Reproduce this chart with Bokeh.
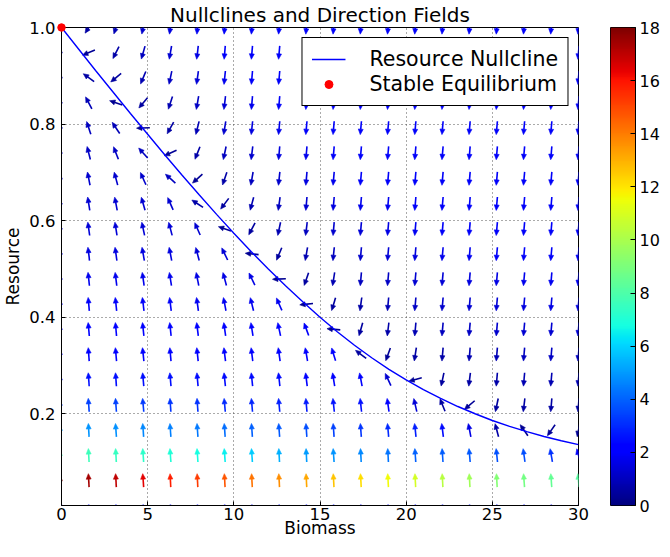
import math
import numpy as np
from bokeh.plotting import figure
from bokeh.models import (Range1d, FixedTicker, LinearColorMapper, Legend,
                          LegendItem, ColumnDataSource, NumeralTickFormatter)
from bokeh.layouts import row
from bokeh.transform import linear_cmap
from bokeh.embed import file_html
from bokeh.resources import INLINE

N = float("nan")

TITLE = "Nullclines and Direction Fields"
X_LABEL = "Biomass"
Y_LABEL = "Resource"
NULL_LABEL = "Resource Nullcline"
EQ_LABEL = "Stable Equilibrium"

x_ticks = [0, 5, 10, 15, 20, 25, 30]
y_ticks = [0.2, 0.4, 0.6, 0.8, 1.0]
cbar_ticks = [0, 2, 4, 6, 8, 10, 12, 14, 16, 18]

# quiver grid (columns = biomass, rows = resource)
biomass_grid = [0.0, 1.58, 3.16, 4.74, 6.32, 7.89, 9.47, 11.05, 12.63, 14.21,
                15.79, 17.37, 18.95, 20.53, 22.11, 23.68, 25.26, 26.84, 28.42, 30.0]
resource_grid = [0.01, 0.062, 0.114, 0.166, 0.218, 0.271, 0.323, 0.375, 0.427, 0.479,
                 0.531, 0.583, 0.635, 0.687, 0.740, 0.792, 0.844, 0.896, 0.948, 1.0]

# arrow direction in degrees (90 = up, 180 = left, 270 = down); nan = zero-length (dot)
arrow_angle = [
    [N, N, N, N, N, N, N, N, N, N, N, N, N, N, N, N, N, N, N, N],
    [N, 93, 93, 94, 93, 93, 93, 93, 93, 93, 93, 93, 93, 93, 93, 93, 93, 94, 94, 95],
    [N, 93, 93, 94, 94, 94, 94, 94, 93, 93, 94, 93, 93, 94, 94, 95, 96, 98, 100, 105],
    [N, 93, 94, 94, 94, 94, 94, 94, 94, 94, 94, 94, 95, 96, 97, 101, 105, 125, 235, 259],
    [N, 94, 94, 95, 94, 94, 95, 95, 95, 95, 96, 96, 98, 103, 112, 220, 258, 263, 265, 265],
    [N, 94, 94, 95, 95, 95, 96, 96, 96, 97, 99, 101, 115, 195, 258, 263, 265, 265, 265, 265],
    [N, 94, 95, 96, 95, 96, 97, 97, 98, 100, 107, 143, 250, 261, 265, 265, 265, 265, 265, 265],
    [N, 95, 95, 96, 96, 97, 98, 99, 102, 110, 175, 254, 263, 265, 265, 265, 265, 265, 265, 265],
    [N, 95, 96, 97, 97, 98, 101, 104, 114, 186, 253, 262, 265, 265, 265, 265, 265, 265, 265, 265],
    [N, 96, 97, 98, 99, 101, 105, 116, 182, 251, 261, 265, 265, 265, 265, 265, 265, 265, 265, 265],
    [N, 97, 98, 100, 101, 105, 116, 174, 247, 260, 264, 265, 265, 265, 265, 265, 265, 265, 265, 265],
    [N, 98, 99, 102, 105, 114, 161, 242, 258, 263, 265, 265, 265, 265, 265, 265, 265, 265, 265, 265],
    [N, 99, 101, 106, 114, 147, 233, 255, 262, 265, 265, 265, 265, 265, 265, 265, 265, 265, 265, 265],
    [N, 101, 105, 114, 138, 222, 251, 260, 264, 265, 265, 265, 265, 265, 265, 265, 265, 265, 265, 265],
    [N, 104, 111, 132, 204, 248, 258, 263, 265, 265, 265, 265, 265, 265, 265, 265, 265, 265, 265, 265],
    [N, 108, 124, 182, 241, 256, 261, 264, 265, 265, 265, 265, 265, 265, 265, 265, 265, 265, 265, 265],
    [N, 118, 162, 230, 252, 260, 263, 265, 265, 265, 265, 265, 265, 265, 265, 265, 265, 265, 265, 265],
    [N, 144, 219, 247, 258, 262, 264, 265, 265, 265, 265, 265, 265, 265, 265, 265, 265, 265, 265, 265],
    [N, 202, 243, 254, 260, 263, 265, 265, 265, 265, 265, 265, 265, 265, 265, 265, 265, 265, 265, 265],
    [N, 237, 252, 258, 262, 265, 265, 265, 265, 265, 265, 265, 265, 265, 265, 265, 265, 265, 265, 265],
]

# arrow magnitude (colour value)
arrow_speed = [
    [2.4, 2.4, 2.4, 2.4, 2.4, 2.4, 2.4, 2.4, 2.4, 2.4, 2.4, 2.4, 2.4, 2.4, 2.4, 2.4, 2.4, 2.4, 2.4, 2.4],
    [18.0, 17.4, 17.0, 16.4, 15.8, 15.2, 14.7, 14.2, 13.7, 13.2, 12.6, 12.1, 11.6, 10.9, 10.3, 9.8, 9.2, 8.8, 8.5, 8.2],
    [7.7, 7.6, 7.5, 7.3, 7.0, 6.8, 6.5, 5.9, 5.4, 5.0, 4.9, 4.7, 4.3, 4.0, 3.9, 3.8, 3.7, 3.6, 3.1, 1.9],
    [5.0, 4.9, 4.8, 4.7, 4.5, 4.4, 4.2, 4.0, 3.8, 3.6, 3.4, 3.2, 3.0, 2.8, 2.4, 1.6, 0.7, 0.3, 0.4, 0.4],
    [3.5, 3.4, 3.4, 3.3, 3.2, 3.1, 3.0, 2.9, 2.8, 2.7, 2.6, 2.5, 2.2, 1.4, 0.5, 0.4, 0.5, 0.6, 0.6, 0.7],
    [2.5, 2.5, 2.5, 2.5, 2.5, 2.4, 2.4, 2.4, 2.4, 2.3, 2.3, 2.3, 1.3, 0.4, 0.5, 0.6, 0.7, 0.8, 0.8, 0.9],
    [2.3, 2.3, 2.3, 2.3, 2.3, 2.2, 2.2, 2.2, 2.2, 2.1, 2.1, 0.5, 0.4, 0.6, 0.7, 0.8, 0.9, 1.0, 1.1, 1.1],
    [2.1, 2.1, 2.1, 2.1, 2.1, 2.0, 2.0, 2.0, 2.0, 1.9, 0.3, 0.5, 0.7, 0.8, 1.0, 1.1, 1.2, 1.3, 1.3, 1.4],
    [1.9, 1.9, 1.9, 1.9, 1.9, 1.8, 1.8, 1.8, 1.8, 0.3, 0.5, 0.7, 0.9, 1.1, 1.2, 1.3, 1.4, 1.5, 1.6, 1.6],
    [1.7, 1.7, 1.7, 1.7, 1.7, 1.6, 1.6, 1.6, 0.3, 0.5, 0.8, 1.0, 1.1, 1.3, 1.4, 1.5, 1.6, 1.7, 1.8, 1.8],
    [1.5, 1.5, 1.5, 1.5, 1.5, 1.4, 1.4, 0.3, 0.5, 0.8, 1.0, 1.2, 1.4, 1.5, 1.7, 1.8, 1.9, 1.9, 1.9, 1.9],
    [1.4, 1.4, 1.4, 1.4, 1.4, 1.3, 0.4, 0.5, 0.8, 1.0, 1.2, 1.4, 1.6, 1.8, 1.9, 1.9, 1.9, 1.9, 1.9, 1.9],
    [1.3, 1.3, 1.3, 1.3, 1.3, 0.7, 0.5, 0.8, 1.0, 1.3, 1.5, 1.7, 1.8, 1.9, 1.9, 1.9, 1.9, 1.9, 1.9, 1.9],
    [1.2, 1.2, 1.2, 1.2, 1.0, 0.4, 0.7, 1.0, 1.2, 1.5, 1.7, 1.9, 1.9, 1.9, 1.9, 1.9, 1.9, 1.9, 1.9, 1.9],
    [1.1, 1.1, 1.1, 1.0, 0.4, 0.7, 1.0, 1.2, 1.5, 1.7, 1.9, 1.9, 1.9, 1.9, 1.9, 1.9, 1.9, 1.9, 1.9, 1.9],
    [1.0, 1.0, 0.9, 0.3, 0.6, 0.9, 1.2, 1.5, 1.7, 1.9, 1.9, 1.9, 1.9, 1.9, 1.9, 1.9, 1.9, 1.9, 1.9, 1.9],
    [0.9, 0.9, 0.3, 0.5, 0.8, 1.1, 1.4, 1.7, 1.9, 1.9, 1.9, 1.9, 1.9, 1.9, 1.9, 1.9, 1.9, 1.9, 1.9, 1.9],
    [0.8, 0.6, 0.5, 0.8, 1.1, 1.4, 1.7, 1.9, 1.9, 1.9, 1.9, 1.9, 1.9, 1.9, 1.9, 1.9, 1.9, 1.9, 1.9, 1.9],
    [0.6, 0.4, 0.7, 1.0, 1.3, 1.6, 1.9, 1.9, 1.9, 1.9, 1.9, 1.9, 1.9, 1.9, 1.9, 1.9, 1.9, 1.9, 1.9, 1.9],
    [0.3, 0.6, 0.9, 1.2, 1.5, 1.8, 1.9, 1.9, 1.9, 1.9, 1.9, 1.9, 1.9, 1.9, 1.9, 1.9, 1.9, 1.9, 1.9, 1.9],
]

# resource nullcline
null_biomass = [0, 1, 2, 3, 4, 5, 6, 7, 8, 9, 10, 11, 12, 13, 14, 15, 16, 17, 18, 19, 20,
                21, 22, 23, 24, 25, 26, 27, 28, 29, 30]
null_resource = [1.0, 0.955, 0.910, 0.866, 0.822, 0.779, 0.736, 0.694, 0.653, 0.613, 0.574,
                 0.536, 0.500, 0.465, 0.432, 0.400, 0.370, 0.342, 0.316, 0.292, 0.270,
                 0.250, 0.232, 0.215, 0.200, 0.186, 0.174, 0.163, 0.153, 0.144, 0.136]

eq_biomass = [0.0]
eq_resource = [1.0]

C_MIN, C_MAX = 0, 18
X_MIN, X_MAX = 0, 30
Y_MIN, Y_MAX = 0.01, 1.0

# ---- jet colormap ----
def jet_palette(n=256):
    t = np.linspace(0, 1, n)
    r = np.interp(t, [0, 0.35, 0.66, 0.89, 1], [0, 0, 1, 1, 0.5])
    g = np.interp(t, [0, 0.125, 0.375, 0.64, 0.91, 1], [0, 0, 1, 1, 0, 0])
    b = np.interp(t, [0, 0.11, 0.34, 0.65, 1], [0.5, 1, 1, 0, 0])
    return ["#%02x%02x%02x" % (int(round(255 * a)), int(round(255 * c)), int(round(255 * d)))
            for a, c, d in zip(r, g, b)]

JET = jet_palette()
FONT = "DejaVu Sans"

# ---- layout geometry ----
LEFT, RIGHT, TOP, BOTTOM = 56, 30, 25, 36
FW, FH = 522, 480
P_W, P_H = LEFT + FW + RIGHT, TOP + FH + BOTTOM
CB_W = 54

# arrow style (screen pixels)
A_LEN, H_LEN, H_WID = 13.5, 5.5, 5.0
kx = FW / (X_MAX - X_MIN)
ky = FH / (Y_MAX - Y_MIN)

x0s, y0s, x1s, y1s, hxs, hys, ms = [], [], [], [], [], [], []
dx_, dy_, dm_ = [], [], []
for j, R in enumerate(resource_grid):
    for i, B in enumerate(biomass_grid):
        a = arrow_angle[j][i]
        m = arrow_speed[j][i]
        if math.isnan(a):
            dx_.append(B); dy_.append(R); dm_.append(m)
            continue
        t = math.radians(a)
        ux, uy = math.cos(t), math.sin(t)
        nx, ny = -uy, ux

        def pt(along, across):
            return (B + (along * ux + across * nx) / kx, R + (along * uy + across * ny) / ky)
        tail = pt(-A_LEN / 2, 0)
        base = pt(A_LEN / 2 - H_LEN + 0.5, 0)
        tip = pt(A_LEN / 2, 0)
        hl = pt(A_LEN / 2 - H_LEN, H_WID / 2)
        hr = pt(A_LEN / 2 - H_LEN, -H_WID / 2)
        x0s.append(tail[0]); y0s.append(tail[1]); x1s.append(base[0]); y1s.append(base[1])
        hxs.append([tip[0], hl[0], hr[0]]); hys.append([tip[1], hl[1], hr[1]])
        ms.append(m)

arrows = ColumnDataSource(dict(x0=x0s, y0=y0s, x1=x1s, y1=y1s, hx=hxs, hy=hys, m=ms))
dots = ColumnDataSource(dict(x=dx_, y=dy_, m=dm_))
cmap = linear_cmap("m", JET, C_MIN, C_MAX)

p = figure(width=P_W, height=P_H, x_range=Range1d(X_MIN, X_MAX), y_range=Range1d(Y_MIN, Y_MAX),
           min_border_left=LEFT, min_border_right=RIGHT, min_border_top=TOP,
           min_border_bottom=BOTTOM, toolbar_location=None, output_backend="svg", title=TITLE)
p.title.align = "center"
p.title.text_font = FONT
p.title.text_font_size = "20px"
p.title.text_font_style = "normal"
p.title.text_color = "black"
p.title.standoff = 1
p.outline_line_color = "black"
p.outline_line_width = 1
p.outline_line_alpha = 1
p.background_fill_color = "white"

for ax in p.axis:
    ax.major_tick_in = 4
    ax.major_tick_out = 0
    ax.minor_tick_in = 0
    ax.minor_tick_out = 0
    ax.axis_line_color = "black"
    ax.major_tick_line_color = "black"
    ax.major_label_text_font = FONT
    ax.major_label_text_color = "black"
    ax.major_label_text_font_size = "16.5px"
    ax.axis_label_text_font = FONT
    ax.axis_label_text_font_size = "17px"
    ax.axis_label_text_font_style = "normal"
    ax.axis_label_text_color = "black"
p.xaxis.ticker = FixedTicker(ticks=x_ticks)
p.yaxis.ticker = FixedTicker(ticks=y_ticks)
p.yaxis.formatter = NumeralTickFormatter(format="0.0")
p.xaxis.major_label_standoff = 2
p.yaxis.major_label_standoff = 6
p.xaxis.axis_label = X_LABEL
p.xaxis.axis_label_standoff = -5
p.yaxis.axis_label = Y_LABEL
p.yaxis.axis_label_standoff = 3

p.xgrid.ticker = FixedTicker(ticks=x_ticks)
p.ygrid.ticker = FixedTicker(ticks=y_ticks)
p.grid.grid_line_color = "#444444"
p.grid.grid_line_dash = "1 3"
p.grid.grid_line_width = 1
p.grid.grid_line_alpha = 0.9

# arrows
p.segment(x0="x0", y0="y0", x1="x1", y1="y1", source=arrows, line_color=cmap, line_width=1.6)
p.patches(xs="hx", ys="hy", source=arrows, fill_color=cmap, line_color=cmap, line_width=0.6)
p.scatter(x="x", y="y", source=dots, size=2.2, fill_color=cmap, line_color=None)

null_r = p.line(null_biomass, null_resource, line_color="#0000ff", line_width=1.4)
eq_r = p.scatter(eq_biomass, eq_resource, size=7.5, fill_color="red", line_color="red")
eq_r.level = "overlay"

legend = Legend(items=[LegendItem(label=NULL_LABEL, renderers=[null_r]),
                       LegendItem(label=EQ_LABEL, renderers=[eq_r])],
                location="top_right")
legend.margin = 10
legend.padding = 9
legend.spacing = 1
legend.glyph_width = 34
legend.glyph_height = 20
legend.label_standoff = 24
legend.label_text_font = FONT
legend.label_text_font_size = "20.5px"
legend.label_text_color = "black"
legend.border_line_color = "black"
legend.border_line_width = 1
legend.border_line_alpha = 1
legend.background_fill_alpha = 1
p.add_layout(legend)

# ---- colour bar ----
mapper = LinearColorMapper(palette=JET, low=C_MIN, high=C_MAX)
cb = figure(width=CB_W, height=P_H, x_range=Range1d(0, 1), y_range=Range1d(C_MIN, C_MAX),
            min_border_left=2, min_border_right=CB_W - 27, min_border_top=TOP,
            min_border_bottom=BOTTOM, toolbar_location=None, output_backend="svg",
            x_axis_location=None, y_axis_location="right")
ramp = np.linspace(C_MIN, C_MAX, 256).reshape(256, 1)
cb.image(image=[ramp], x=0, y=C_MIN, dw=1, dh=C_MAX - C_MIN, color_mapper=mapper)
cb.grid.visible = False
cb.outline_line_color = "black"
cb.outline_line_alpha = 1
cb.yaxis.ticker = FixedTicker(ticks=cbar_ticks)
cb.yaxis.major_tick_in = 5
cb.yaxis.major_tick_out = 0
cb.yaxis.minor_tick_in = 0
cb.yaxis.minor_tick_out = 0
cb.yaxis.major_tick_line_color = "black"
cb.yaxis.axis_line_color = "black"
cb.yaxis.major_label_standoff = 4
cb.yaxis.major_label_text_font = FONT
cb.yaxis.major_label_text_font_size = "16px"
cb.yaxis.major_label_text_color = "black"

layout = row(p, cb)
open("out.html", "w").write(file_html(layout, INLINE))
